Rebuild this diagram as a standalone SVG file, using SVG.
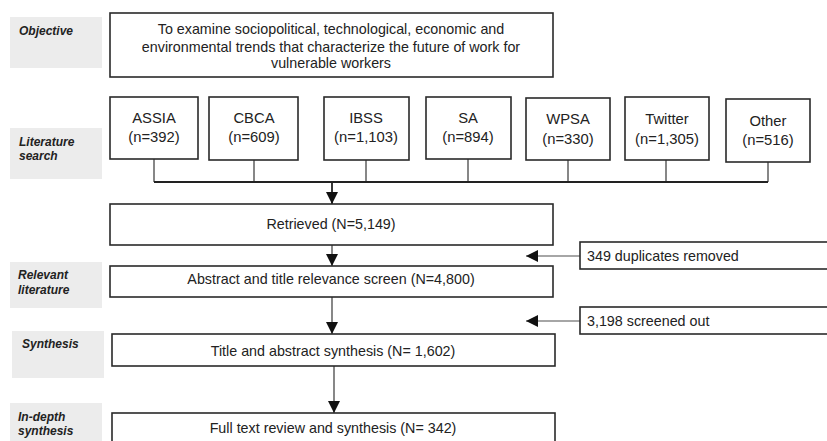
<svg xmlns="http://www.w3.org/2000/svg" width="827" height="441" viewBox="0 0 827 441">
<defs>
<style>
.lab{fill:#ececec;stroke:none}
.lt{font-family:"Liberation Sans",Arial,sans-serif;font-size:12px;font-weight:bold;font-style:italic;fill:#222}
.box{fill:#fff;stroke:#2a2a2a;stroke-width:1.6}
.t{font-family:"Liberation Sans",Arial,sans-serif;font-size:14.3px;fill:#222;text-anchor:middle}
.td{font-family:"Liberation Sans",Arial,sans-serif;font-size:14.8px;fill:#222;text-anchor:middle}
.ts{font-family:"Liberation Sans",Arial,sans-serif;font-size:14.3px;fill:#222}
.c{fill:none;stroke:#555;stroke-width:1.4}
.cd{fill:none;stroke:#222;stroke-width:1.8}
.cg{fill:none;stroke:#888;stroke-width:1.6}
</style>
<marker id="ah" viewBox="0 0 12 12" refX="12" refY="6" markerWidth="12" markerHeight="12" markerUnits="userSpaceOnUse" orient="auto">
<path d="M0,0 L12,6 L0,12 Z" fill="#111"/>
</marker>
</defs>
<g id="label-objective"><rect class="lab" x="10" y="17" width="92" height="51"/><text class="lt" x="19" y="35">Objective</text></g>
<g id="label-literature"><rect class="lab" x="10" y="128" width="92" height="51"/><text class="lt" x="19" y="146">Literature</text><text class="lt" x="19" y="160">search</text></g>
<g id="label-relevant"><rect class="lab" x="10" y="262" width="92" height="46"/><text class="lt" x="18" y="279">Relevant</text><text class="lt" x="18" y="294">literature</text></g>
<g id="label-synthesis"><rect class="lab" x="12" y="331" width="92" height="47"/><text class="lt" x="22" y="348">Synthesis</text></g>
<g id="label-indepth"><rect class="lab" x="10" y="403" width="92" height="40"/><text class="lt" x="18" y="421">In-depth</text><text class="lt" x="18" y="435">synthesis</text></g>
<g id="connectors">
<path class="c" d="M154,159 V182 M254,160 V182 M366,160 V182 M468,159 V182 M568,160 V182 M666,160 V182 M768,162 V182"/>
<path class="cd" d="M154,182 H768"/>
<path class="cd" d="M332,182 V204" marker-end="url(#ah)"/>
<path class="c" d="M332,245 V266" marker-end="url(#ah)"/>
<path class="c" d="M332,297 V334" marker-end="url(#ah)"/>
<path class="c" d="M334,366 V413" marker-end="url(#ah)"/>
<path class="cg" d="M580,256 H526" marker-end="url(#ah)"/>
<path class="cg" d="M580,321 H526" marker-end="url(#ah)"/>
</g>
<g id="objective"><rect class="box" x="110" y="13" width="443" height="64"/><text class="t" x="331" y="34">To examine sociopolitical, technological, economic and</text><text class="t" x="331" y="52">environmental trends that characterize the future of work for</text><text class="t" x="331" y="68">vulnerable workers</text></g>
<g id="assia"><rect class="box" x="110" y="97" width="88" height="62"/><text class="td" x="154" y="123">ASSIA</text><text class="td" x="154" y="142">(n=392)</text></g>
<g id="cbca"><rect class="box" x="209" y="97" width="89" height="63"/><text class="td" x="254" y="123">CBCA</text><text class="td" x="254" y="142">(n=609)</text></g>
<g id="ibss"><rect class="box" x="324" y="97" width="85" height="63"/><text class="td" x="366" y="123">IBSS</text><text class="td" x="366" y="142">(n=1,103)</text></g>
<g id="sa"><rect class="box" x="426" y="97" width="85" height="62"/><text class="td" x="468" y="123">SA</text><text class="td" x="468" y="142">(n=894)</text></g>
<g id="wpsa"><rect class="box" x="526" y="98" width="84" height="62"/><text class="td" x="568" y="124">WPSA</text><text class="td" x="568" y="144">(n=330)</text></g>
<g id="twitter"><rect class="box" x="625" y="97" width="84" height="63"/><text class="td" x="667" y="124">Twitter</text><text class="td" x="667" y="144">(n=1,305)</text></g>
<g id="other"><rect class="box" x="726" y="99" width="84" height="63"/><text class="td" x="768" y="126">Other</text><text class="td" x="768" y="145">(n=516)</text></g>
<g id="retrieved"><rect class="box" x="110" y="204" width="443" height="41"/><text class="t" x="331" y="229">Retrieved (N=5,149)</text></g>
<g id="abstract"><rect class="box" x="110" y="266" width="443" height="31"/><text class="t" x="331" y="284">Abstract and title relevance screen (N=4,800)</text></g>
<g id="title"><rect class="box" x="112" y="334" width="443" height="32"/><text class="t" x="333" y="356">Title and abstract synthesis (N= 1,602)</text></g>
<g id="fulltext"><rect class="box" x="112" y="413" width="443" height="40"/><text class="t" x="333" y="433">Full text review and synthesis (N= 342)</text></g>
<g id="duplicates"><rect class="box" x="580" y="242" width="260" height="27"/><text class="ts" x="587" y="261">349 duplicates removed</text></g>
<g id="screened"><rect class="box" x="580" y="307" width="260" height="27"/><text class="ts" x="587" y="326">3,198 screened out</text></g>
</svg>
